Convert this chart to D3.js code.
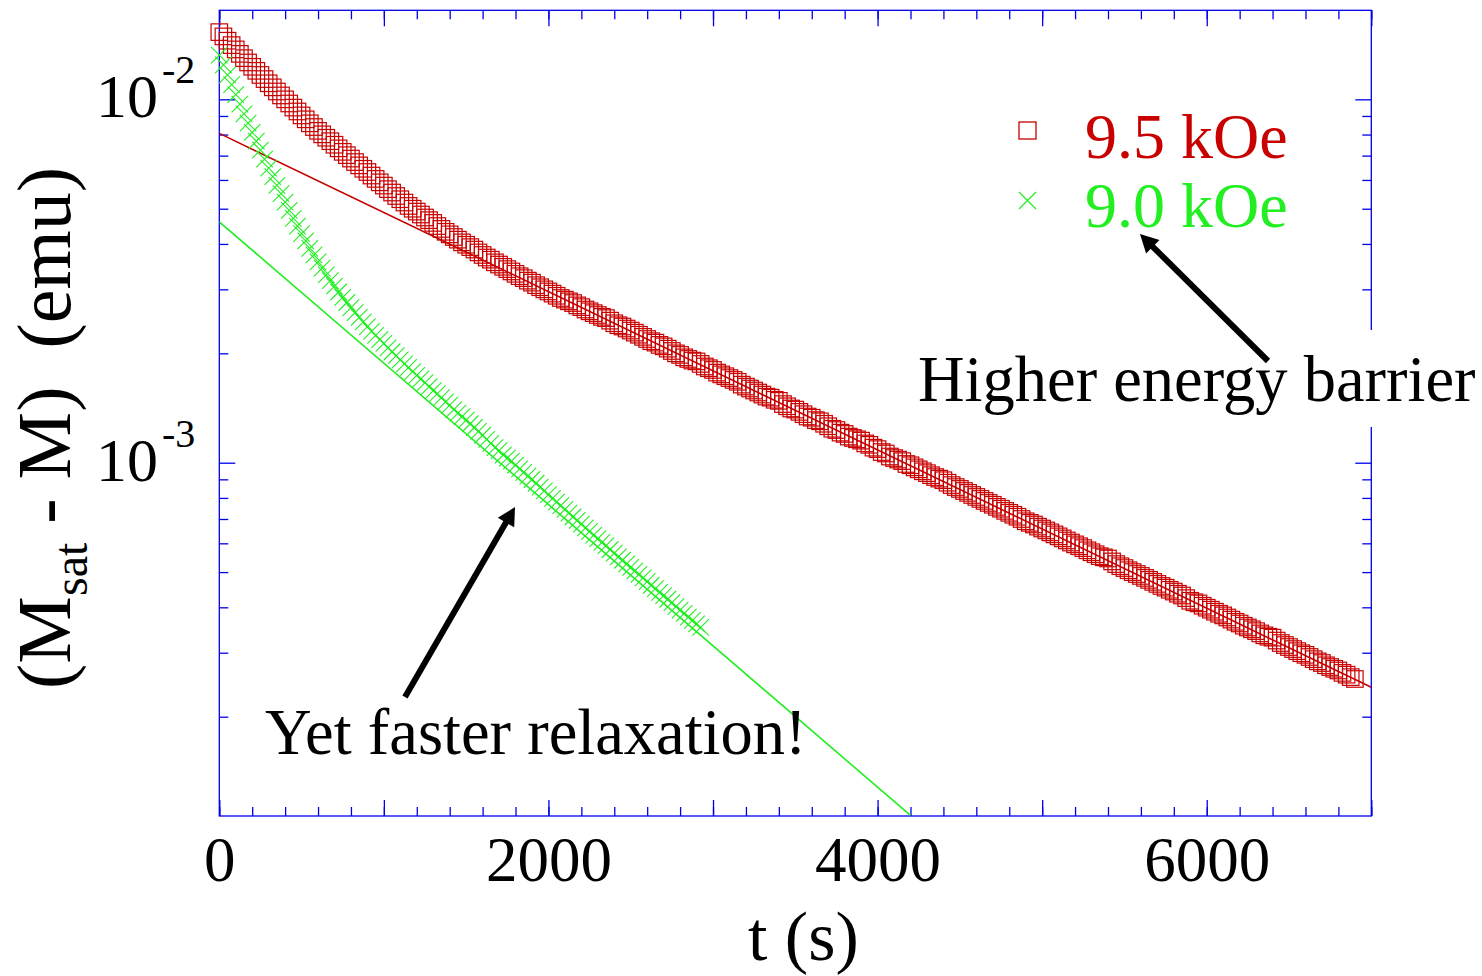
<!DOCTYPE html>
<html><head><meta charset="utf-8">
<script src="https://cdn.jsdelivr.net/npm/d3@7"></script>
<style>
html,body{margin:0;padding:0;background:#fff;}
svg{display:block;font-family:"Liberation Serif","Times New Roman",serif;}
</style></head><body>
<svg id="chart" width="1482" height="976"></svg>
<script>
// ---------------- data ----------------
const seriesNames = ["9.5 kOe", "9.0 kOe"];

// 9.5 kOe : time (s)
const tRed = [0,25,50,75,100,125,150,175,200,225,250,275,300,325,350,375,400,425,450,475,
500,525,550,575,600,625,650,675,700,725,750,775,800,825,850,875,900,925,950,975,
1000,1025,1050,1075,1100,1125,1150,1175,1200,1225,1250,1275,1300,1325,1350,1375,1400,1425,1450,1475,
1500,1525,1550,1575,1600,1625,1650,1675,1700,1725,1750,1775,1800,1825,1850,1875,1900,1925,1950,1975,
2000,2025,2050,2075,2100,2125,2150,2175,2200,2225,2250,2275,2300,2325,2350,2375,2400,2425,2450,2475,
2500,2525,2550,2575,2600,2625,2650,2675,2700,2725,2750,2775,2800,2825,2850,2875,2900,2925,2950,2975,
3000,3025,3050,3075,3100,3125,3150,3175,3200,3225,3250,3275,3300,3325,3350,3375,3400,3425,3450,3475,
3500,3525,3550,3575,3600,3625,3650,3675,3700,3725,3750,3775,3800,3825,3850,3875,3900,3925,3950,3975,
4000,4025,4050,4075,4100,4125,4150,4175,4200,4225,4250,4275,4300,4325,4350,4375,4400,4425,4450,4475,
4500,4525,4550,4575,4600,4625,4650,4675,4700,4725,4750,4775,4800,4825,4850,4875,4900,4925,4950,4975,
5000,5025,5050,5075,5100,5125,5150,5175,5200,5225,5250,5275,5300,5325,5350,5375,5400,5425,5450,5475,
5500,5525,5550,5575,5600,5625,5650,5675,5700,5725,5750,5775,5800,5825,5850,5875,5900,5925,5950,5975,
6000,6025,6050,6075,6100,6125,6150,6175,6200,6225,6250,6275,6300,6325,6350,6375,6400,6425,6450,6475,
6500,6525,6550,6575,6600,6625,6650,6675,6700,6725,6750,6775,6800,6825,6850,6875,6900];
// 9.5 kOe : Msat - M (emu)
const mRed = [0.01531,0.01490,0.01450,0.01410,0.01372,0.01334,0.01298,0.01263,0.01229,0.01198,
0.01167,0.01137,0.01107,0.01079,0.01051,0.01025,0.01000,0.00974,0.00949,0.00926,
0.00903,0.00881,0.00859,0.00839,0.00819,0.00801,0.00784,0.00767,0.00750,0.00733,
0.00717,0.00702,0.00687,0.00672,0.00658,0.00644,0.00631,0.00617,0.00604,0.00591,
0.00579,0.00566,0.00554,0.00542,0.00531,0.00520,0.00509,0.00500,0.00491,0.00482,
0.00473,0.00465,0.00457,0.00448,0.00440,0.00432,0.00425,0.00418,0.00411,0.00404,
0.00398,0.00392,0.00386,0.00379,0.00373,0.00367,0.00362,0.00356,0.00351,0.00346,
0.00341,0.00336,0.00331,0.00326,0.00322,0.00317,0.00313,0.00308,0.00304,0.00300,
0.00296,0.00292,0.00288,0.00284,0.00281,0.00278,0.00275,0.00271,0.00268,0.00264,
0.00261,0.00258,0.00255,0.00252,0.00250,0.00246,0.00242,0.00239,0.00237,0.00234,
0.00231,0.00228,0.00225,0.00222,0.00219,0.00216,0.00214,0.00211,0.00209,0.00206,
0.00203,0.00200,0.00198,0.00195,0.00193,0.00191,0.00190,0.00187,0.00184,0.00182,
0.00180,0.00177,0.00175,0.00173,0.00171,0.00169,0.00167,0.00164,0.00162,0.00160,
0.00158,0.00156,0.00154,0.00152,0.00151,0.00149,0.00148,0.00145,0.00143,0.00141,
0.00140,0.00138,0.00136,0.00134,0.00133,0.00131,0.00130,0.00128,0.00126,0.00124,
0.00123,0.00121,0.00120,0.00118,0.00117,0.00116,0.00115,0.00113,0.00112,0.00110,
0.00109,0.00107,0.00106,0.00104,0.00103,0.00102,0.00101,0.000992,0.000984,0.000971,
0.000959,0.000947,0.000936,0.000924,0.000913,0.000904,0.000895,0.000881,0.000868,0.000857,
0.000847,0.000836,0.000826,0.000815,0.000805,0.000795,0.000785,0.000775,0.000766,0.000756,
0.000747,0.000737,0.000728,0.000719,0.000710,0.000700,0.000690,0.000683,0.000676,0.000667,
0.000659,0.000651,0.000643,0.000635,0.000627,0.000619,0.000611,0.000603,0.000596,0.000589,
0.000582,0.000574,0.000567,0.000560,0.000553,0.000549,0.000545,0.000535,0.000526,0.000519,
0.000513,0.000506,0.000500,0.000494,0.000488,0.000482,0.000476,0.000470,0.000464,0.000458,
0.000453,0.000447,0.000442,0.000436,0.000431,0.000424,0.000417,0.000413,0.000410,0.000404,
0.000399,0.000394,0.000389,0.000384,0.000380,0.000375,0.000370,0.000365,0.000361,0.000356,
0.000352,0.000348,0.000344,0.000339,0.000335,0.000332,0.000330,0.000324,0.000319,0.000315,
0.000311,0.000307,0.000303,0.000299,0.000296,0.000292,0.000288,0.000284,0.000281,0.000277,
0.000274,0.000271,0.000268,0.000264,0.000261,0.000257,0.000254];

// 9.0 kOe : time (s)
const tGreen = [0,25,50,75,100,125,150,175,200,225,250,275,300,325,350,375,400,425,450,475,
500,525,550,575,600,625,650,675,700,725,750,775,800,825,850,875,900,925,950,975,
1000,1025,1050,1075,1100,1125,1150,1175,1200,1225,1250,1275,1300,1325,1350,1375,1400,1425,1450,1475,
1500,1525,1550,1575,1600,1625,1650,1675,1700,1725,1750,1775,1800,1825,1850,1875,1900,1925,1950,1975,
2000,2025,2050,2075,2100,2125,2150,2175,2200,2225,2250,2275,2300,2325,2350,2375,2400,2425,2450,2475,
2500,2525,2550,2575,2600,2625,2650,2675,2700,2725,2750,2775,2800,2825,2850,2875,2900,2925];
// 9.0 kOe : Msat - M (emu)
const mGreen = [0.01324,0.01244,0.01168,0.01097,0.01031,0.00970,0.00912,0.00860,0.00811,0.00767,
0.00725,0.00685,0.00647,0.00613,0.00580,0.00550,0.00521,0.00495,0.00470,0.00448,
0.00427,0.00408,0.00389,0.00373,0.00357,0.00343,0.00329,0.00317,0.00306,0.00295,
0.00285,0.00276,0.00267,0.00259,0.00251,0.00244,0.00237,0.00230,0.00224,0.00218,
0.00213,0.00207,0.00202,0.00197,0.00192,0.00187,0.00183,0.00178,0.00174,0.00170,
0.00166,0.00162,0.00158,0.00155,0.00151,0.00147,0.00144,0.00140,0.00137,0.00134,
0.00131,0.00128,0.00125,0.00122,0.00119,0.00116,0.00113,0.00110,0.00108,0.00105,
0.00103,0.00101,0.000985,0.000962,0.000940,0.000919,0.000899,0.000878,0.000857,0.000837,
0.000817,0.000798,0.000780,0.000762,0.000744,0.000727,0.000710,0.000694,0.000678,0.000662,
0.000647,0.000632,0.000618,0.000604,0.000591,0.000577,0.000564,0.000551,0.000539,0.000527,
0.000515,0.000504,0.000493,0.000482,0.000471,0.000460,0.000450,0.000440,0.000431,0.000421,
0.000412,0.000402,0.000393,0.000385,0.000376,0.000368,0.000360,0.000352];

// single-exponential fit lines (two end points each)
const fitRedT = [0, 7000];
const fitRedM = [0.00806, 0.000241];
const fitGreenT = [0, 4200];
const fitGreenM = [0.00460, 0.000107];

const xDomain = [0, 7000];
const yDomain = [1.066e-4, 1.758e-2];
const xTickLabels = [0, 2000, 4000, 6000];
const yTickExponents = [-2, -3];
const xTitle = "t (s)";
const annotations = ["Higher energy barrier", "Yet faster relaxation!"];

// ---------------- layout ----------------
const L = 219.3, R = 1371.3, T = 10.3, B = 816;
const AX = "#0000ee", RED = "#c80000", GREEN = "#22ee22";
const FONT = "'Liberation Serif','Times New Roman',serif";

const svg = d3.select("#chart");
const x = d3.scaleLinear().domain(xDomain).range([L, R]);
const y = d3.scaleLog().domain(yDomain).range([B, T]);

svg.append("defs").append("clipPath").attr("id", "plotclip")
  .append("rect").attr("x", L).attr("y", T).attr("width", R - L).attr("height", B - T);

// ticks
const xMinor = d3.range(xDomain[0], xDomain[1] + 1, 200);
const xMajor = d3.range(xDomain[0], xDomain[1] + 1, 1000);
const yMajor = yTickExponents.map(e => Math.pow(10, e));
const yMinor = [];
for (let e = -4; e <= -2; e++) for (let k = 2; k <= 9; k++) {
  const v = k * Math.pow(10, e);
  if (v >= yDomain[0] && v <= yDomain[1]) yMinor.push(v);
}

function tickAxis(gen, tr) {
  const g = svg.append("g").attr("transform", tr).call(gen);
  g.select(".domain").remove();
  g.selectAll(".tick line").attr("stroke", AX).attr("stroke-width", 1.3);
  g.selectAll(".tick text").remove();
  return g;
}
[[xMinor, 9], [xMajor, 16]].forEach(([vals, len]) => {
  tickAxis(d3.axisBottom(x).tickValues(vals).tickSizeInner(-len).tickSizeOuter(0), `translate(0,${B})`);
  tickAxis(d3.axisTop(x).tickValues(vals).tickSizeInner(-len).tickSizeOuter(0), `translate(0,${T})`);
});
[[yMinor, 9], [yMajor, 16]].forEach(([vals, len]) => {
  tickAxis(d3.axisLeft(y).tickValues(vals).tickSizeInner(-len).tickSizeOuter(0), `translate(${L},0)`);
  tickAxis(d3.axisRight(y).tickValues(vals).tickSizeInner(-len).tickSizeOuter(0), `translate(${R},0)`);
});
svg.append("rect").attr("x", L).attr("y", T).attr("width", R - L).attr("height", B - T)
  .attr("fill", "none").attr("stroke", AX).attr("stroke-width", 1.3);

// x tick labels
const xl = svg.append("g").attr("transform", `translate(0,${B})`)
  .call(d3.axisBottom(x).tickValues(xTickLabels).tickSize(0).tickPadding(20).tickFormat(d3.format("d")));
xl.select(".domain").remove();
xl.attr("font-family", FONT).attr("font-size", 63);
xl.selectAll("text").attr("fill", "#000");

// y tick labels 10^n
const yl = svg.append("g").attr("font-size", 62).attr("fill", "#000");
yMajor.forEach((v, i) => {
  const t = yl.append("text").attr("x", L - 24).attr("y", y(v) + 18).attr("text-anchor", "end");
  t.append("tspan").text("10");
  t.append("tspan").attr("font-size", 40).attr("dx", 4).attr("dy", -34).text(String(yTickExponents[i]));
});

// axis titles
svg.append("text").attr("x", (L + R) / 2 + 8).attr("y", 960).attr("text-anchor", "middle")
  .attr("font-size", 70).attr("fill", "#000").style("white-space", "pre").text(xTitle);
const yt = svg.append("text").attr("transform", "translate(70,428) rotate(-90)")
  .attr("text-anchor", "middle").attr("font-size", 76).attr("fill", "#000").style("white-space", "pre");
yt.append("tspan").text("(M");
yt.append("tspan").attr("font-size", 48).attr("dy", 17).text("sat");
yt.append("tspan").attr("dy", -17).text(" - M)  (emu)");

// fit lines
const line = d3.line().x(d => x(d[0])).y(d => y(d[1]));
svg.append("path").datum(d3.zip(fitRedT, fitRedM)).attr("d", line)
  .attr("fill", "none").attr("stroke", RED).attr("stroke-width", 1.6).attr("clip-path", "url(#plotclip)");
svg.append("path").datum(d3.zip(fitGreenT, fitGreenM)).attr("d", line)
  .attr("fill", "none").attr("stroke", GREEN).attr("stroke-width", 1.6).attr("clip-path", "url(#plotclip)");

// markers
const S = 16.5, h = S / 2;
svg.append("g").selectAll("rect").data(d3.zip(tRed, mRed)).join("rect")
  .attr("x", d => x(d[0]) - h).attr("y", d => y(d[1]) - h).attr("width", S).attr("height", S)
  .attr("fill", "none").attr("stroke", RED).attr("stroke-width", 1.2);
svg.append("g").selectAll("path").data(d3.zip(tGreen, mGreen)).join("path")
  .attr("transform", d => `translate(${x(d[0])},${y(d[1])})`)
  .attr("d", `M${-h},${-h}L${h},${h}M${-h},${h}L${h},${-h}`)
  .attr("fill", "none").attr("stroke", GREEN).attr("stroke-width", 1.1);

// legend
const lg = svg.append("g").attr("font-size", 64);
lg.append("rect").attr("x", 1027.5 - 8.5).attr("y", 130.5 - 8.5).attr("width", 17).attr("height", 17)
  .attr("fill", "none").attr("stroke", RED).attr("stroke-width", 1.3);
lg.append("text").attr("x", 1085).attr("y", 158).attr("fill", RED).text(seriesNames[0]);
lg.append("path").attr("transform", "translate(1027.5,200.5)")
  .attr("d", "M-8.5,-8.5L8.5,8.5M-8.5,8.5L8.5,-8.5").attr("stroke", GREEN).attr("stroke-width", 1.2);
lg.append("text").attr("x", 1085).attr("y", 227).attr("fill", GREEN).text(seriesNames[1]);

// annotations
function arrow(x1, y1, x2, y2) {
  const dx = x2 - x1, dy = y2 - y1, len = Math.hypot(dx, dy), ux = dx / len, uy = dy / len;
  const hl = 18, hw = 9.5;
  const bx = x2 - ux * hl, by = y2 - uy * hl;
  svg.append("line").attr("x1", x1).attr("y1", y1).attr("x2", bx + ux * 2).attr("y2", by + uy * 2)
    .attr("stroke", "#000").attr("stroke-width", 6);
  svg.append("path").attr("d", `M${x2},${y2}L${bx - uy * hw},${by + ux * hw}L${bx + uy * hw},${by - ux * hw}Z`)
    .attr("fill", "#000");
}
svg.append("rect").attr("x", 905).attr("y", 330).attr("width", 577).attr("height", 97).attr("fill", "#fff");
svg.append("text").attr("x", 918).attr("y", 401).attr("font-size", 64.5).attr("fill", "#000").text(annotations[0]);
arrow(1268, 361, 1140, 234);
svg.append("text").attr("x", 265).attr("y", 754).attr("font-size", 64.5).attr("fill", "#000").text(annotations[1]);
arrow(405, 697, 515, 507);
</script>
</body></html>
